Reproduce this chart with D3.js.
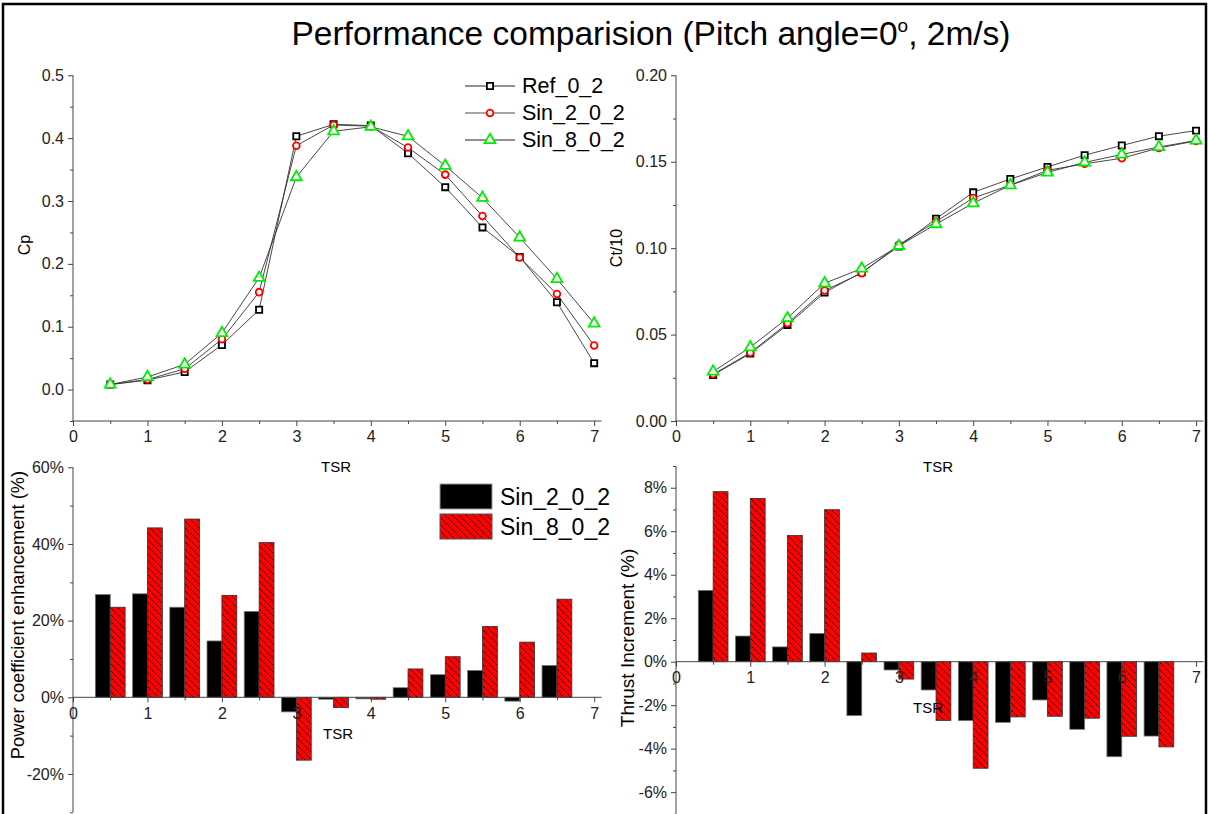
<!DOCTYPE html>
<html>
<head>
<meta charset="utf-8">
<script src="https://cdn.jsdelivr.net/npm/d3@7"></script>
<style>
  body { margin: 0; background: #fff; }
  svg { font-family: "Liberation Sans", Arial, sans-serif; }
  .tick text { fill: #222; }
</style>
</head>
<body>
<div id="chart"></div>
<script>
// ---- data ----
var tsr = [0.5, 1, 1.5, 2, 2.5, 3, 3.5, 4, 4.5, 5, 5.5, 6, 6.5, 7];

var cpRef  = [0.008, 0.015, 0.028, 0.071, 0.127, 0.403, 0.422, 0.420, 0.376, 0.322, 0.258, 0.211, 0.139, 0.042];
var cpSin2 = [0.008, 0.016, 0.033, 0.080, 0.155, 0.388, 0.421, 0.419, 0.385, 0.342, 0.276, 0.210, 0.152, 0.070];
var cpSin8 = [0.008, 0.020, 0.040, 0.090, 0.178, 0.338, 0.411, 0.418, 0.403, 0.356, 0.305, 0.242, 0.176, 0.105];

var ctRef  = [0.0266, 0.0390, 0.0556, 0.0743, 0.0860, 0.1010, 0.1170, 0.1323, 0.1400, 0.1470, 0.1538, 0.1594, 0.1648, 0.1680];
var ctSin2 = [0.0270, 0.0395, 0.0565, 0.0755, 0.0855, 0.1020, 0.1154, 0.1290, 0.1365, 0.1450, 0.1488, 0.1520, 0.1580, 0.1620];
var ctSin8 = [0.0286, 0.0427, 0.0595, 0.0797, 0.0882, 0.1013, 0.1139, 0.1260, 0.1364, 0.1438, 0.1496, 0.1542, 0.1585, 0.1623];

var barTsr = [0.5, 1, 1.5, 2, 2.5, 3, 3.5, 4, 4.5, 5, 5.5, 6, 6.5];
var cpEnhSin2 = [26.8, 27.0, 23.5, 14.7, 22.4, -3.8, -0.5, -0.4, 2.5, 5.9, 7.0, -1.0, 8.3];
var cpEnhSin8 = [23.5, 44.2, 46.5, 26.6, 40.4, -16.4, -2.7, -0.5, 7.4, 10.6, 18.5, 14.4, 25.6];
var ctIncSin2 = [3.28, 1.18, 0.68, 1.30, -2.48, -0.38, -1.30, -2.71, -2.79, -1.76, -3.11, -4.37, -3.42];
var ctIncSin8 = [7.82, 7.51, 5.81, 6.99, 0.40, -0.80, -2.70, -4.90, -2.54, -2.51, -2.60, -3.43, -3.92];

var lineNames = ["Ref_0_2", "Sin_2_0_2", "Sin_8_0_2"];
var barNames = ["Sin_2_0_2", "Sin_8_0_2"];

var W = 1208, H = 814;

var svg = d3.select("#chart").append("svg")
    .attr("width", W)
    .attr("height", H);

// hatch pattern for the red bars
var defs = svg.append("defs");
var pat = defs.append("pattern")
    .attr("id", "hatch")
    .attr("patternUnits", "userSpaceOnUse")
    .attr("width", 7)
    .attr("height", 7);
pat.append("rect").attr("width", 7).attr("height", 7).attr("fill", "#ff0000");
pat.append("path")
    .attr("d", "M0,0 L7,7 M-1,6 L1,8 M6,-1 L8,1")
    .attr("stroke", "#000")
    .attr("stroke-width", 0.8);

// outer frame
svg.append("rect")
    .attr("x", 3).attr("y", 4)
    .attr("width", W - 5).attr("height", H + 10)
    .attr("fill", "none")
    .attr("stroke", "#000")
    .attr("stroke-width", 2.5);

// title
var title = svg.append("text")
    .attr("x", 651)
    .attr("y", 45)
    .attr("text-anchor", "middle")
    .style("font-size", "33.5px")
    .attr("fill", "#000");
title.append("tspan").text("Performance comparision (Pitch angle=0");
title.append("tspan").attr("dy", -13).style("font-size", "19px").text("o");
title.append("tspan").attr("dy", 13).text(", 2m/s)");

// helper: draw the axes of a panel
function drawAxes(x, y, opt) {
    var g = svg.append("g");
    var axisColor = "#444";

    // y axis minor ticks
    g.append("g")
        .attr("transform", "translate(" + x.range()[0] + ",0)")
        .call(d3.axisLeft(y).tickValues(opt.yMinor).tickSize(3).tickFormat(""))
        .call(function(s) { s.select(".domain").remove(); s.selectAll("line").attr("stroke", axisColor); });

    // y axis major
    var ya = g.append("g")
        .attr("transform", "translate(" + x.range()[0] + ",0)")
        .call(d3.axisLeft(y).tickValues(opt.yTicks).tickSize(5).tickPadding(4).tickFormat(opt.yFormat));
    ya.select(".domain").attr("d", "M0," + y.range()[0] + "V" + y.range()[1]).attr("stroke", axisColor);
    ya.selectAll("line").attr("stroke", axisColor);
    ya.selectAll("text").style("font-size", "16px");

    // x axis
    var x0 = opt.xAt;
    g.append("g")
        .attr("transform", "translate(0," + x0 + ")")
        .call(d3.axisBottom(x).tickValues(d3.range(0.5, 7.1, 1)).tickSize(3).tickFormat(""))
        .call(function(s) { s.select(".domain").remove(); s.selectAll("line").attr("stroke", axisColor); });
    var xa = g.append("g")
        .attr("transform", "translate(0," + x0 + ")")
        .call(d3.axisBottom(x).tickValues(d3.range(0, 8, 1)).tickSize(5).tickPadding(5).tickFormat(d3.format("d")));
    xa.select(".domain").attr("d", "M" + x.range()[0] + ",0H" + x.range()[1]).attr("stroke", axisColor);
    xa.selectAll("line").attr("stroke", axisColor);
    xa.selectAll("text").style("font-size", "16px");

    // axis titles
    svg.append("text")
        .attr("x", opt.xTitle[0]).attr("y", opt.xTitle[1])
        .attr("text-anchor", "middle")
        .style("font-size", "15px")
        .text("TSR");
    svg.append("text")
        .attr("transform", "translate(" + opt.yTitle[0] + "," + opt.yTitle[1] + ") rotate(-90)")
        .attr("text-anchor", "middle")
        .style("font-size", opt.yTitleSize)
        .text(opt.yLabel);
}

// ---- line panels ----
var xTL = d3.scaleLinear().domain([0, 7.1]).range([73, 601.6]);
var yTL = d3.scaleLinear().domain([-0.05, 0.5]).range([421, 75.3]);
var xTR = d3.scaleLinear().domain([0, 7.1]).range([676, 1203.5]);
var yTR = d3.scaleLinear().domain([0, 0.2]).range([421, 75.3]);

drawAxes(xTL, yTL, {
    yTicks: [0, 0.1, 0.2, 0.3, 0.4, 0.5],
    yMinor: [-0.05, 0.05, 0.15, 0.25, 0.35, 0.45],
    yFormat: d3.format(".1f"),
    xAt: 421,
    xTitle: [336, 472], yTitle: [30, 245], yTitleSize: "16px", yLabel: "Cp"
});
drawAxes(xTR, yTR, {
    yTicks: [0, 0.05, 0.1, 0.15, 0.2],
    yMinor: [0.025, 0.075, 0.125, 0.175],
    yFormat: d3.format(".2f"),
    xAt: 421,
    xTitle: [938, 472], yTitle: [622, 248], yTitleSize: "16px", yLabel: "Ct/10"
});

var markerColor = ["#000", "#ff0000", "#00ee00"];
var markerShape = [d3.symbolSquare, d3.symbolCircle, d3.symbolTriangle];
var markerSize = [38, 36, 50];

function drawLines(x, y, series) {
    var line = d3.line().x(function(d) { return x(d[0]); }).y(function(d) { return y(d[1]); });
    series.forEach(function(vals, i) {
        var pts = tsr.map(function(t, k) { return [t, vals[k]]; });
        svg.append("path")
            .datum(pts)
            .attr("d", line)
            .attr("fill", "none")
            .attr("stroke", "#333")
            .attr("stroke-width", 0.9);
    });
    series.forEach(function(vals, i) {
        svg.append("g").selectAll("path")
            .data(tsr.map(function(t, k) { return [t, vals[k]]; }))
            .enter().append("path")
            .attr("transform", function(d) { return "translate(" + x(d[0]) + "," + y(d[1]) + ")"; })
            .attr("d", d3.symbol().type(markerShape[i]).size(markerSize[i]))
            .attr("fill", "#fff")
            .attr("stroke", markerColor[i])
            .attr("stroke-width", 1.8);
    });
}
drawLines(xTL, yTL, [cpRef, cpSin2, cpSin8]);
drawLines(xTR, yTR, [ctRef, ctSin2, ctSin8]);

// line legend
var lg = svg.append("g");
lineNames.forEach(function(name, i) {
    var yy = 86 + i * 27;
    lg.append("line")
        .attr("x1", 465).attr("x2", 515).attr("y1", yy).attr("y2", yy)
        .attr("stroke", i === 1 ? "#888" : "#222").attr("stroke-width", i === 1 ? 1.5 : 1);
    lg.append("path")
        .attr("transform", "translate(490," + yy + ")")
        .attr("d", d3.symbol().type(markerShape[i]).size(markerSize[i]))
        .attr("fill", "#fff").attr("stroke", markerColor[i]).attr("stroke-width", 1.8);
    lg.append("text")
        .attr("x", 522).attr("y", yy + 7)
        .style("font-size", "21.5px")
        .text(name);
});

// ---- bar panels ----
var xBL = d3.scaleLinear().domain([0, 7.1]).range([73, 601.6]);
var yBL = d3.scaleLinear().domain([-30, 60]).range([812.3, 467.3]);
var xBR = d3.scaleLinear().domain([0, 7.1]).range([676, 1203.5]);
var yBR = d3.scaleLinear().domain([-7, 9]).range([813.9, 466]);

function drawBars(x, y, a, b) {
    var bw = x(0.2) - x(0);
    var g = svg.append("g");
    g.selectAll(".b1").data(barTsr).enter().append("rect")
        .attr("x", function(t) { return x(t) - bw; })
        .attr("y", function(t, k) { return y(Math.max(0, a[k])); })
        .attr("width", bw)
        .attr("height", function(t, k) { return Math.abs(y(a[k]) - y(0)); })
        .attr("fill", "#000")
        .attr("stroke", "#777").attr("stroke-width", 0.8);
    g.selectAll(".b2").data(barTsr).enter().append("rect")
        .attr("x", function(t) { return x(t); })
        .attr("y", function(t, k) { return y(Math.max(0, b[k])); })
        .attr("width", bw)
        .attr("height", function(t, k) { return Math.abs(y(b[k]) - y(0)); })
        .attr("fill", "url(#hatch)")
        .attr("stroke", "#333").attr("stroke-width", 0.8);
}

drawBars(xBL, yBL, cpEnhSin2, cpEnhSin8);
drawBars(xBR, yBR, ctIncSin2, ctIncSin8);

drawAxes(xBL, yBL, {
    yTicks: [-20, 0, 20, 40, 60],
    yMinor: [-30, -10, 10, 30, 50],
    yFormat: function(d) { return d + "%"; },
    xAt: yBL(0),
    xTitle: [338, 739], yTitle: [24, 615], yTitleSize: "18.3px", yLabel: "Power coefficient enhancement (%)"
});
drawAxes(xBR, yBR, {
    yTicks: [-6, -4, -2, 0, 2, 4, 6, 8],
    yMinor: [-7, -5, -3, -1, 1, 3, 5, 7, 9],
    yFormat: function(d) { return d + "%"; },
    xAt: yBR(0),
    xTitle: [928, 713], yTitle: [634, 638], yTitleSize: "19px", yLabel: "Thrust Increment (%)"
});

// bar legend
var bl = svg.append("g");
barNames.forEach(function(name, i) {
    var yy = 484 + i * 30;
    bl.append("rect")
        .attr("x", 440).attr("y", yy)
        .attr("width", 52).attr("height", 25)
        .attr("fill", i === 0 ? "#000" : "url(#hatch)")
        .attr("stroke", i === 0 ? "#999" : "#555").attr("stroke-width", 1);
    bl.append("text")
        .attr("x", 500).attr("y", yy + 21)
        .style("font-size", "23px")
        .text(name);
});
</script>
</body>
</html>
